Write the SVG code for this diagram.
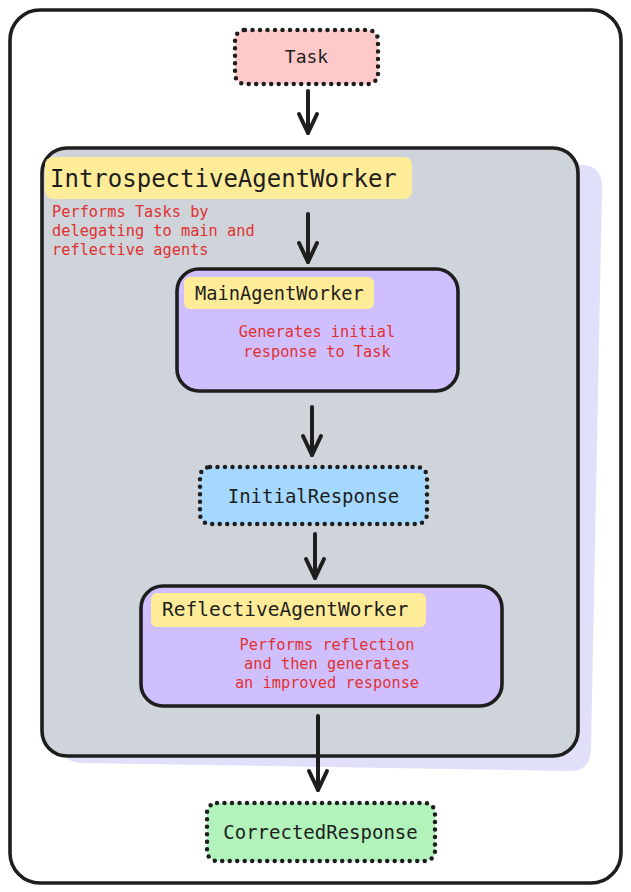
<svg xmlns="http://www.w3.org/2000/svg" width="631" height="892" viewBox="0 0 631 892">
<defs>
<style>
.solid{stroke:#1e1e1e;stroke-width:3.6;}
.dot{stroke:#1e1e1e;stroke-width:4.5;stroke-dasharray:0 7.5;stroke-linecap:round;}
.lbl{font-family:"DejaVu Sans Mono","Liberation Mono",monospace;fill:#1e1e1e;}
.red{font-family:"DejaVu Sans Mono","Liberation Mono",monospace;fill:#e03131;font-size:15.3px;}
.conn line,.conn path{stroke:#1e1e1e;stroke-width:4;fill:none;stroke-linecap:round;stroke-linejoin:round;}
</style>
</defs>
<rect x="0" y="0" width="631" height="892" fill="#ffffff"/>
<rect x="10" y="10" width="611" height="873" rx="30" fill="none" class="solid"/>

<g id="task">
<rect x="235" y="30" width="143" height="54" rx="10" fill="#ffc9c9" class="dot"/>
<text x="306.5" y="63" class="lbl" font-size="18" text-anchor="middle">Task</text>
</g>

<g id="introspective">
<path d="M66 164 L585 165 Q603 167 602 190 L591 750 Q590 771 570 771 L80 763 Q63 762 62 745 Z" fill="#e0e0fb"/>
<rect x="42" y="148" width="536" height="608" rx="25" fill="#ced4da" class="solid"/>
<rect x="45" y="157" width="367" height="42" rx="8" fill="#ffec99"/>
<text x="50" y="187" class="lbl" font-size="24">IntrospectiveAgentWorker</text>
<text class="red"><tspan x="52" y="217">Performs Tasks by</tspan><tspan x="52" y="236">delegating to main and</tspan><tspan x="52" y="255">reflective agents</tspan></text>
</g>

<g id="main">
<rect x="177" y="269" width="281" height="122" rx="22" fill="#d0bfff" class="solid"/>
<rect x="184" y="277" width="190" height="32" rx="6" fill="#ffec99"/>
<text x="195" y="300" class="lbl" font-size="18.7">MainAgentWorker</text>
<text class="red" text-anchor="middle"><tspan x="317" y="337">Generates initial</tspan><tspan x="317" y="357">response to Task</tspan></text>
</g>

<g id="initial">
<rect x="200" y="467" width="227" height="57" rx="10" fill="#a5d8ff" class="dot"/>
<text x="313.5" y="503" class="lbl" font-size="19" text-anchor="middle">InitialResponse</text>
</g>

<g id="reflective">
<rect x="141" y="586" width="361" height="120" rx="22" fill="#d0bfff" class="solid"/>
<rect x="151" y="593" width="275" height="34" rx="6" fill="#ffec99"/>
<text x="162" y="616" class="lbl" font-size="19.5">ReflectiveAgentWorker</text>
<text class="red" text-anchor="middle"><tspan x="327" y="650">Performs reflection</tspan><tspan x="327" y="669">and then generates</tspan><tspan x="327" y="688">an improved response</tspan></text>
</g>

<g id="corrected">
<rect x="207" y="803" width="228" height="58" rx="10" fill="#b2f2bb" class="dot"/>
<text x="320.5" y="839" class="lbl" font-size="19" text-anchor="middle">CorrectedResponse</text>
</g>

<g class="conn" id="connectors">
<line x1="308" y1="91" x2="308" y2="133"/><path d="M299 114 L308 133 L317 114"/>
<line x1="308" y1="214" x2="308" y2="262"/><path d="M299 243 L308 262 L317 243"/>
<line x1="312" y1="407" x2="312" y2="455"/><path d="M303 436 L312 455 L321 436"/>
<line x1="315" y1="534" x2="315" y2="578"/><path d="M306 559 L315 578 L324 559"/>
<line x1="318" y1="716" x2="318" y2="790"/><path d="M309 771 L318 790 L327 771"/>
</g>
</svg>
